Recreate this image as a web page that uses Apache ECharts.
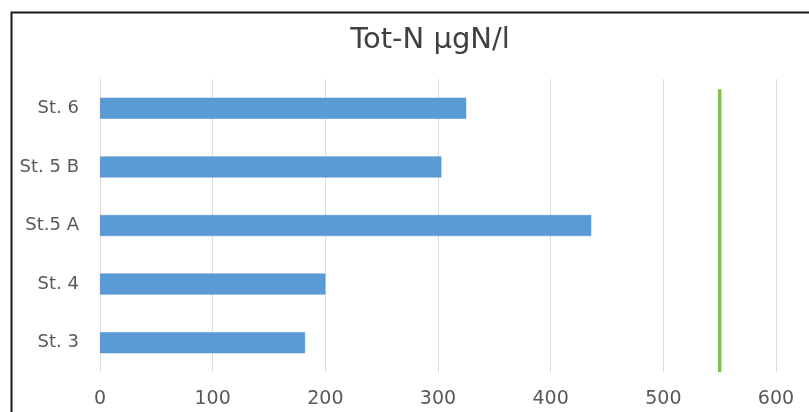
<!DOCTYPE html>
<html>
<head>
<meta charset="utf-8">
<script src="https://cdn.jsdelivr.net/npm/echarts@6/dist/echarts.min.js"></script>
<style>html,body{margin:0;padding:0;background:#fff}#c{width:809px;height:412px}</style>
</head>
<body>
<div id="c"></div>
<script>
var categories = ['St. 3', 'St. 4', 'St.5 A', 'St. 5 B', 'St. 6'];
var totN = [182, 200, 436, 303, 325];
var limitValue = 550;
var limitSpan = [0, 0.965];
var xTicks = [0, 100, 200, 300, 400, 500, 600];

var chart = echarts.init(document.getElementById('c'), null, {renderer: 'canvas'});
var font = '"DejaVu Sans", "Open Sans", sans-serif';
chart.setOption({
  animation: false,
  backgroundColor: '#fff',
  title: {
    text: 'Tot-N µgN/l',
    left: 425, textAlign: 'center', top: 21,
    textStyle: {fontFamily: font, fontSize: 29, fontWeight: 'normal', color: '#404040'}
  },
  graphic: [{
    type: 'rect', left: 9, top: 10,
    shape: {width: 900, height: 500},
    style: {fill: 'none', stroke: '#1a1a1a', lineWidth: 2},
    z: 100
  }],
  grid: {left: 100, right: 33, top: 79, bottom: 40, containLabel: false},
  xAxis: {
    type: 'value', min: xTicks[0], max: xTicks[xTicks.length - 1], interval: 100,
    axisLine: {show: false}, axisTick: {show: false},
    splitLine: {show: true, lineStyle: {color: '#dcdcdc', width: 1}},
    axisLabel: {fontFamily: font, fontSize: 19, color: '#595959', margin: 18}
  },
  yAxis: [{
    type: 'category', data: categories,
    axisLine: {show: true, lineStyle: {color: '#dcdcdc'}}, axisTick: {show: false},
    axisLabel: {fontFamily: font, fontSize: 18, color: '#595959', margin: 21}
  }, {
    type: 'value', min: 0, max: 1, show: false
  }],
  series: [{
    type: 'bar', data: totN, barWidth: 21, yAxisIndex: 0,
    itemStyle: {color: '#5b9bd5', borderColor: '#4f8dc8', borderWidth: 0.5}
  }, {
    type: 'line', yAxisIndex: 1, symbol: 'none',
    data: [[limitValue, limitSpan[0]], [limitValue, limitSpan[1]]],
    lineStyle: {color: '#7fc04a', width: 3.5}
  }]
});
</script>
</body>
</html>
